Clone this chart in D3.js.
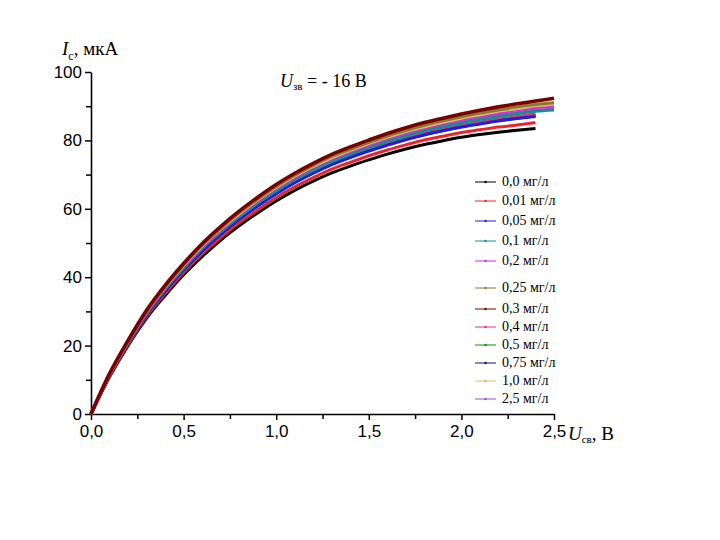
<!DOCTYPE html>
<html>
<head>
<meta charset="utf-8">
<script src="https://cdn.jsdelivr.net/npm/d3@7"></script>
<style>
  body { margin: 0; background: #fff; }
  .tick text { font-family: "Liberation Sans", Arial, sans-serif; font-size: 17px; }
  .serif { font-family: "Liberation Serif", "Times New Roman", serif; }
</style>
</head>
<body>
<script>
const width = 720, height = 540

// Uсв, В grid shared by all curves
const voltage = [0, 0.1, 0.2, 0.3, 0.4, 0.5, 0.6, 0.7, 0.8, 0.9, 1.0, 1.1, 1.2,
    1.3, 1.4, 1.5, 1.6, 1.7, 1.8, 1.9, 2.0, 2.1, 2.2, 2.3, 2.4, 2.5]

// Iс, мкА for each concentration
const c00 = [0, 10.8, 20.0, 28.0, 34.6, 40.7, 46.0, 50.8, 55.0, 58.8, 62.3, 65.4, 68.1, 70.5, 72.5, 74.3, 76, 77.5, 78.8, 79.9, 80.9, 81.7, 82.4, 83, 83.5]
const c001 = [0, 11.0, 20.3, 28.5, 35.2, 41.4, 46.8, 51.6, 55.9, 59.7, 63.3, 66.4, 69.1, 71.6, 73.6, 75.5, 77.2, 78.7, 80.1, 81.2, 82.3, 83.1, 83.9, 84.5, 85.2]
const c005 = [0, 11.2, 20.7, 29.0, 35.9, 42.2, 47.7, 52.6, 56.9, 60.8, 64.4, 67.6, 70.4, 72.9, 75.0, 76.9, 78.6, 80.2, 81.6, 82.8, 83.9, 84.8, 85.7, 86.4, 87.0]
const c01 = [0, 11.4, 20.9, 29.4, 36.5, 42.7, 48.4, 53.3, 57.7, 61.7, 65.3, 68.5, 71.3, 73.8, 76.0, 77.9, 79.7, 81.3, 82.8, 84.0, 85.1, 86.1, 87.0, 87.8, 88.5, 88.9]
const c02 = [0, 11.6, 21.1, 29.7, 36.9, 43.2, 48.9, 53.8, 58.3, 62.3, 66.0, 69.2, 72.1, 74.6, 76.8, 78.7, 80.6, 82.2, 83.7, 84.9, 86.1, 87.1, 88.0, 88.9, 89.6, 90.0]
const c025 = [0, 11.7, 21.3, 30.0, 37.2, 43.6, 49.3, 54.3, 58.8, 62.8, 66.5, 69.8, 72.7, 75.3, 77.4, 79.4, 81.3, 82.9, 84.4, 85.7, 86.9, 88.0, 88.9, 89.8, 90.5, 91.0]
const c03 = [0, 11.8, 21.5, 30.3, 37.6, 44.0, 49.8, 54.8, 59.3, 63.4, 67.1, 70.4, 73.3, 75.9, 78.1, 80.1, 82, 83.7, 85.2, 86.5, 87.7, 88.8, 89.8, 90.7, 91.5, 92.3]
const c04 = [0, 11.3, 20.8, 29.2, 36.2, 42.4, 48.0, 52.9, 57.2, 61.2, 64.8, 68.0, 70.8, 73.3, 75.4, 77.3, 79.1, 80.7, 82.1, 83.3, 84.4, 85.4, 86.2, 87.0, 87.7]
const c05 = [0, 11.3, 20.8, 29.2, 36.1, 42.4, 47.9, 52.8, 57.2, 61.1, 64.7, 67.9, 70.7, 73.2, 75.3, 77.2, 79.0, 80.6, 82.0, 83.2, 84.3, 85.3, 86.1, 86.9, 87.5]
const c075 = [0, 11.3, 20.7, 29.1, 36.0, 42.2, 47.7, 52.6, 57.0, 60.9, 64.5, 67.7, 70.5, 73.0, 75.1, 77.0, 78.8, 80.4, 81.7, 82.9, 84.0, 85.0, 85.8, 86.5, 87.2]
const c10 = [0, 11.6, 21.2, 29.9, 37.1, 43.4, 49.1, 54.1, 58.5, 62.6, 66.2, 69.5, 72.4, 74.9, 77.1, 79.1, 80.9, 82.6, 84.0, 85.3, 86.5, 87.5, 88.5, 89.3, 90.1, 90.6]
const c25 = [0, 11.5, 21.0, 29.5, 36.6, 42.9, 48.5, 53.4, 57.8, 61.8, 65.5, 68.7, 71.5, 74.1, 76.2, 78.1, 80.0, 81.6, 83.0, 84.3, 85.4, 86.4, 87.3, 88.1, 88.8, 89.2]

const labels = ["0,0 мг/л", "0,01 мг/л", "0,05 мг/л", "0,1 мг/л", "0,2 мг/л", "0,25 мг/л",
    "0,3 мг/л", "0,4 мг/л", "0,5 мг/л", "0,75 мг/л", "1,0 мг/л", "2,5 мг/л"]
const values = [c00, c001, c005, c01, c02, c025, c03, c04, c05, c075, c10, c25]
const colors = ["#000000", "#e8262a", "#1f1fd6", "#138f8f", "#e024e0", "#8a7a2a",
    "#7a0000", "#e0307a", "#118a11", "#10107a", "#d8b878", "#9a4fc8"]
// order in which curves are painted (last on top)
const drawOrder = [0, 1, 9, 8, 7, 2, 11, 3, 4, 10, 5, 6]

const xTicks = [0, 0.5, 1.0, 1.5, 2.0, 2.5]
const yTicks = [0, 20, 40, 60, 80, 100]

let svg = d3.select("body")
    .append("svg")
    .attr("width", width)
    .attr("height", height)

const x = d3.scaleLinear().domain([0, 2.5]).range([91, 554])
const y = d3.scaleLinear().domain([0, 100]).range([414, 72])

const fmt = (d) => d3.format(".1f")(d).replace(".", ",")

// minor ticks
svg.append("g")
    .attr("transform", "translate(0,414)")
    .call(d3.axisBottom(x).tickValues([0.25, 0.75, 1.25, 1.75, 2.25]).tickSize(5).tickFormat(""))
    .call(g => g.select(".domain").remove())
    .selectAll("line").attr("stroke-width", 1.5)
svg.append("g")
    .attr("transform", "translate(91,0)")
    .call(d3.axisLeft(y).tickValues([10, 30, 50, 70, 90]).tickSize(5).tickFormat(""))
    .call(g => g.select(".domain").remove())
    .selectAll("line").attr("stroke-width", 1.5)

// major axes
let xAxis = svg.append("g")
    .attr("transform", "translate(0,414)")
    .call(d3.axisBottom(x).tickValues(xTicks).tickSize(6).tickSizeOuter(0).tickPadding(5).tickFormat(fmt))
xAxis.select(".domain").attr("stroke-width", 1.6)
xAxis.selectAll("line").attr("stroke-width", 1.5)

let yAxis = svg.append("g")
    .attr("transform", "translate(91,0)")
    .call(d3.axisLeft(y).tickValues(yTicks).tickSize(6).tickSizeOuter(0).tickPadding(3))
yAxis.select(".domain").attr("stroke-width", 1.6)
yAxis.selectAll("line").attr("stroke-width", 1.5)

// curves
const line = d3.line()
    .x((d, i) => x(voltage[i]))
    .y((d) => y(d))
    .curve(d3.curveMonotoneX)

svg.append("g")
    .selectAll("path")
    .data(drawOrder)
    .join("path")
    .attr("d", (k) => line(values[k]))
    .attr("fill", "none")
    .attr("stroke", (k) => colors[k])
    .attr("stroke-width", (k) => k == 6 ? 3.6 : 3)
    .attr("stroke-linejoin", "round")

// legend
const legendY = [181, 200, 220, 240, 260, 287, 308, 326, 344, 362, 380, 398]
let legend = svg.append("g")
    .selectAll("g")
    .data(labels)
    .join("g")
    .attr("transform", (d, i) => `translate(0,${legendY[i]})`)
legend.append("line")
    .attr("x1", 475).attr("x2", 496)
    .attr("y1", 1).attr("y2", 1)
    .attr("stroke", (d, i) => colors[i])
    .attr("stroke-width", 1)
legend.append("circle")
    .attr("cx", 485.5).attr("cy", 1).attr("r", 1.2)
    .attr("fill", (d, i) => colors[i])
legend.append("text")
    .attr("class", "serif")
    .attr("x", 502).attr("y", 5)
    .attr("font-size", 14)
    .text((d) => d)

// axis titles
let yt = svg.append("text").attr("class", "serif").attr("x", 62).attr("y", 55).attr("font-size", 19)
yt.append("tspan").attr("font-style", "italic").text("I")
yt.append("tspan").attr("font-size", 12).attr("dy", 5).text("с")
yt.append("tspan").attr("dy", -5).text(", мкА")

let xt = svg.append("text").attr("class", "serif").attr("x", 568).attr("y", 440).attr("font-size", 19)
xt.append("tspan").attr("font-style", "italic").text("U")
xt.append("tspan").attr("font-size", 11).attr("dy", 3).text("св")
xt.append("tspan").attr("dy", -3).text(", В")

let title = svg.append("text").attr("class", "serif").attr("x", 280).attr("y", 87).attr("font-size", 18)
title.append("tspan").attr("font-style", "italic").text("U")
title.append("tspan").attr("font-size", 11).attr("dy", 3).text("зв")
title.append("tspan").attr("dy", -3).text(" = - 16 В")
</script>
</body>
</html>
